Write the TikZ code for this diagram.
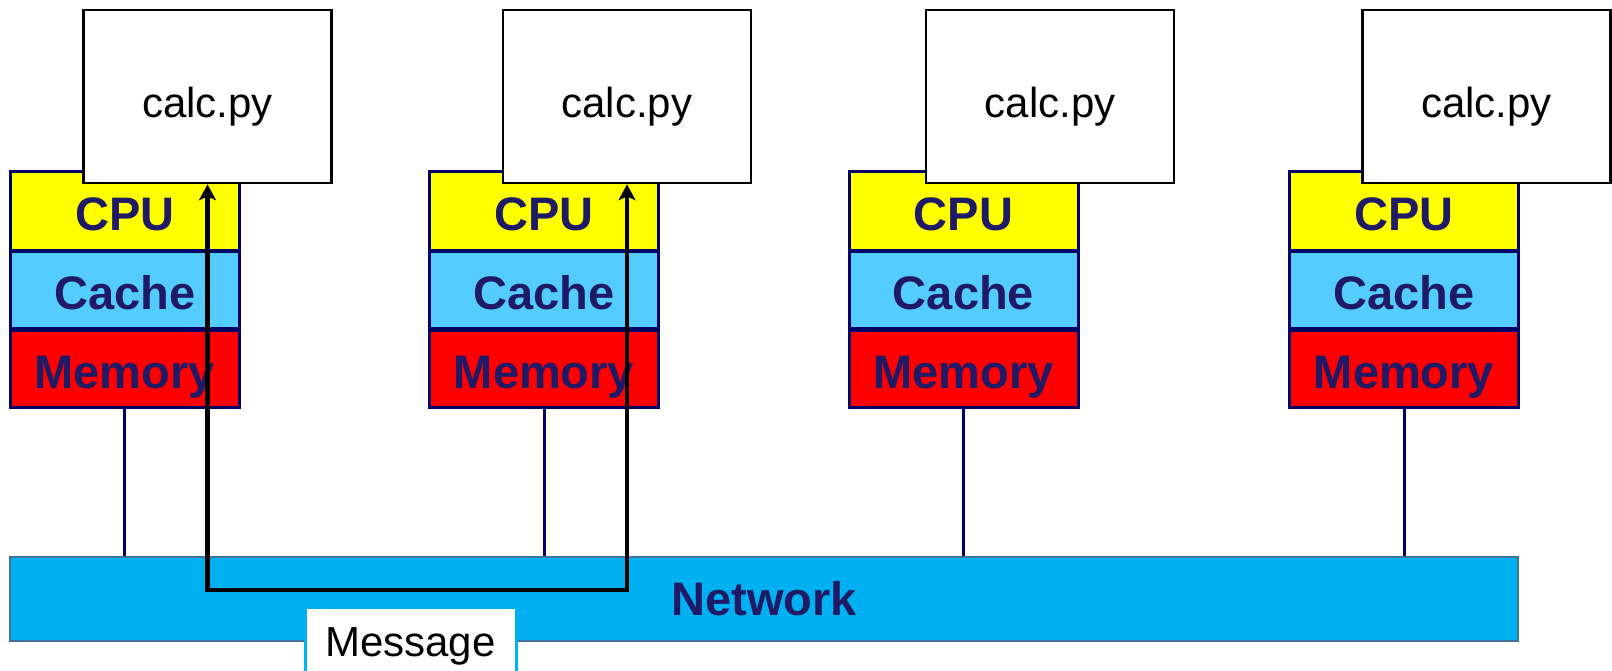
\documentclass[tikz,border=0pt]{standalone}
\usepackage{fontspec}
\setmainfont{Liberation Sans}
\usetikzlibrary{arrows.meta}
\definecolor{navytext}{RGB}{31,26,102}
\definecolor{navyline}{RGB}{0,0,102}
\definecolor{cpuyellow}{RGB}{255,255,0}
\definecolor{cacheblue}{RGB}{85,204,255}
\definecolor{memred}{RGB}{255,0,0}
\definecolor{netblue}{RGB}{0,176,240}
\definecolor{netborder}{RGB}{65,113,156}
\begin{document}
\begin{tikzpicture}[x=0.5pt,y=-0.5pt,
  row/.style={draw=navyline, line width=1.5pt, minimum width=114.5pt, minimum height=39.5pt,
    inner sep=0pt, text height=20pt, text depth=0pt,
    font=\fontsize{23.5}{28}\selectfont\bfseries, text=navytext},
  cpurow/.style={row, fill=cpuyellow},
  cacherow/.style={row, fill=cacheblue},
  memrow/.style={row, fill=memred},
  progbox/.style={draw=black, line width=1.3pt, fill=white, minimum width=124pt, minimum height=86.5pt,
    inner sep=0pt, text height=20.5pt, text depth=0pt, font=\fontsize{21}{25}\selectfont},
  link/.style={draw=navyline, line width=1.5pt},
  netbox/.style={draw=netborder, line width=1.2pt, fill=netblue, minimum width=754pt, minimum height=42pt,
    inner sep=0pt, text height=16pt, text depth=0pt,
    font=\fontsize{23.5}{28}\selectfont\bfseries, text=navytext},
  msgbox/.style={draw=netblue, line width=1.5pt, fill=white, minimum width=105.5pt, inner xsep=0pt, inner ysep=0pt,
    text height=24.5pt, text depth=25pt, font=\fontsize{21}{25}\selectfont},
  msgarrow/.style={draw=black, line width=2.2pt, {Stealth[length=8pt,width=8.5pt,inset=2pt]}-{Stealth[length=8pt,width=8.5pt,inset=2pt]}}
]
\useasboundingbox (0,0) rectangle (1612,670);

% network
\node[netbox] (net) at (764,599) {Network};

% stacks
\foreach \i/\cx in {1/124.75, 2/544, 3/963.5, 4/1404} {
  \node[cpurow]   (cpu\i) at (\cx,210.5) {CPU};
  \node[cacherow] (cache\i) at (\cx,289.5) {Cache};
  \node[memrow]   (mem\i) at (\cx,368) {Memory};
  \draw[link] (mem\i.south) -- (mem\i.south |- net.north);
}
% redraw separators on top
\foreach \i in {1,2,3,4} {
  \draw[link] (cpu\i.south west) -- (cpu\i.south east);
  \draw[link] (cache\i.south west) -- (cache\i.south east);
}

% programs
\node[progbox] (calc1) at (207.5,96.5) {calc.py};
\node[progbox] (calc2) at (627,96.5) {calc.py};
\node[progbox] (calc3) at (1050,96.5) {calc.py};
\node[progbox] (calc4) at (1486.5,96.5) {calc.py};

% message
\node[msgbox, anchor=north] (msg) at (410.5,606) {Message};

% message path
\coordinate (turn) at (417,590);
\draw[msgarrow] (calc1.south) |- (turn) -| (calc2.south);
\end{tikzpicture}
\end{document}
